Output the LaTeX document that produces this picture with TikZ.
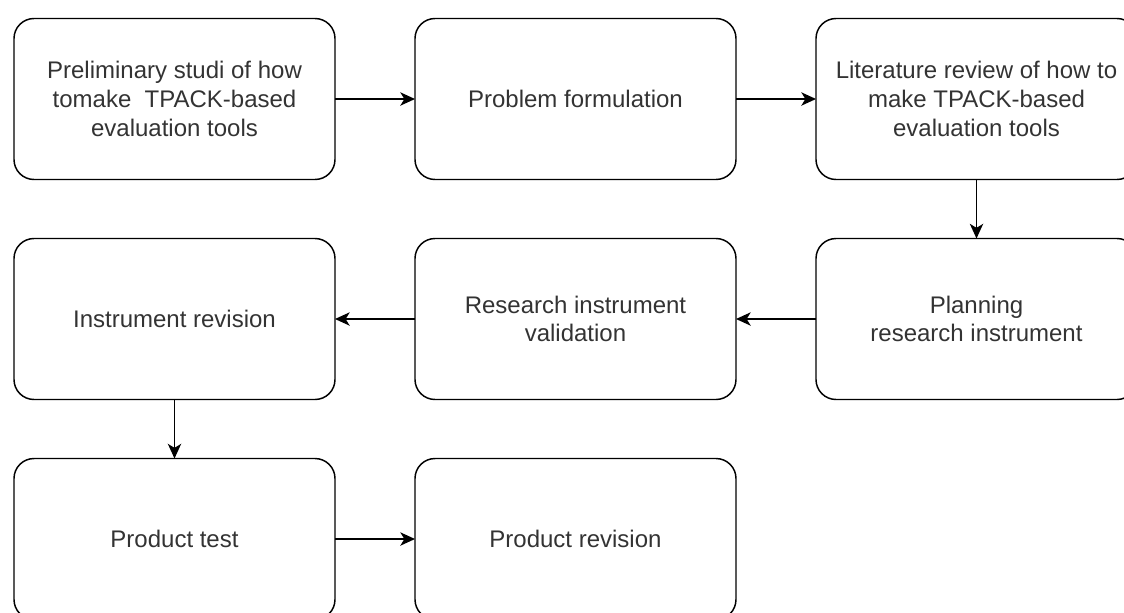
\documentclass[tikz,border=0pt]{standalone}
\usepackage{fontspec}
\setmainfont{Liberation Sans}
\usetikzlibrary{positioning, arrows.meta}

\begin{document}
\begin{tikzpicture}[x=0.75pt, y=-0.75pt,
      node distance=44.25pt and 60pt,
      stage/.style={draw, rounded corners=15pt, line width=1.1pt, outer sep=0pt,
        minimum width=240.75pt, minimum height=120.75pt, align=center,
        font=\fontsize{18}{21.6}\selectfont, text=black!80},
      flow/.style={-{Stealth[length=11pt, width=10pt, inset=3pt]}, line width=1.1pt}]
    \useasboundingbox (0,0) rectangle (1124,612);
    % first row
    \node[stage] (prelim) at (174.5,99) {Preliminary studi of how\\tomake \ TPACK-based\\evaluation tools};
    \node[stage] (problem) [right=of prelim] {Problem formulation};
    \node[stage] (review) [right=of problem] {Literature review of how to\\make TPACK-based\\evaluation tools};
    % second row
    \node[stage] (planning) [below=of review] {Planning\\research instrument};
    \node[stage] (validation) [left=of planning] {Research instrument\\validation};
    \node[stage] (instrev) [left=of validation] {Instrument revision};
    % third row
    \node[stage] (test) [below=of instrev] {Product test};
    \node[stage] (prodrev) [right=of test] {Product revision};
    % arrows
    \draw[flow] (prelim) -- (problem);
    \draw[flow] (problem) -- (review);
    \draw[flow] (review) -- (planning);
    \draw[flow] (planning) -- (validation);
    \draw[flow] (validation) -- (instrev);
    \draw[flow] (instrev) -- (test);
    \draw[flow] (test) -- (prodrev);
\end{tikzpicture}
\end{document}
